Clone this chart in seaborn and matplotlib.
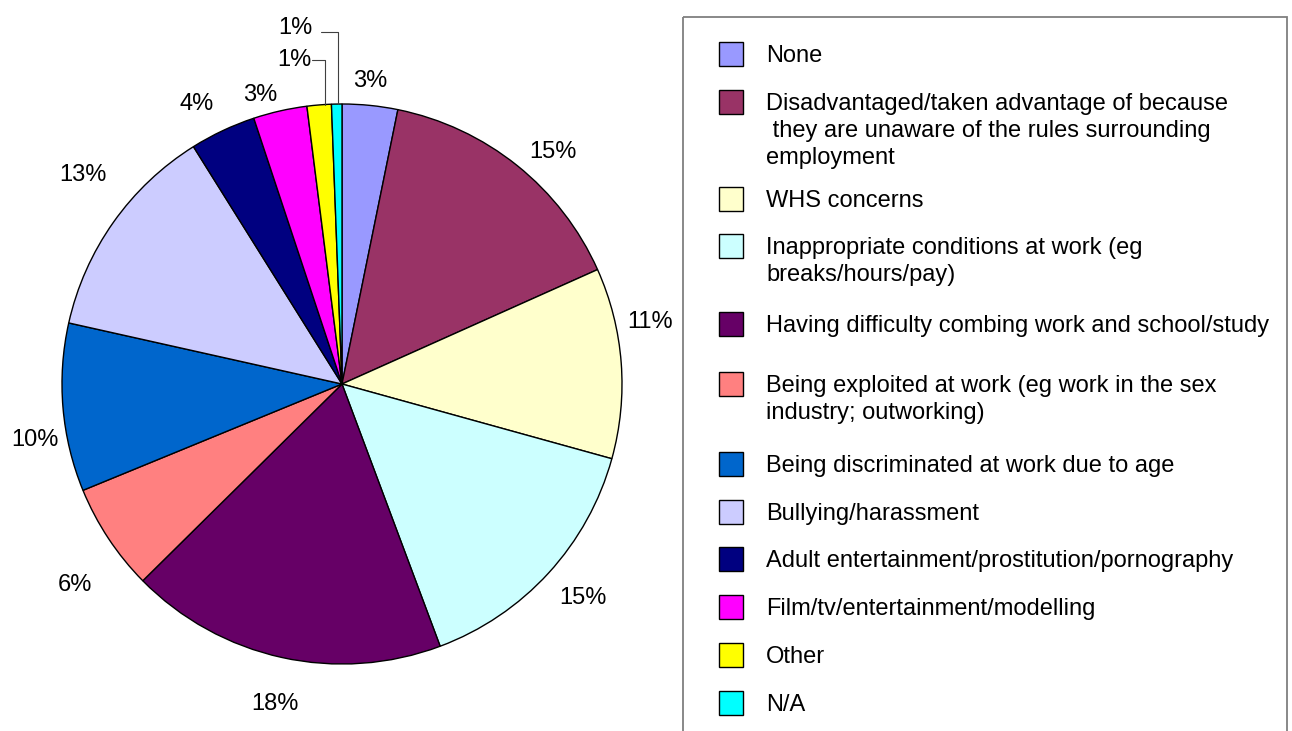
import numpy as np
import matplotlib
matplotlib.use("Agg")
import matplotlib.pyplot as plt
from matplotlib.patches import Rectangle
import seaborn as sns

# data (share of responses, %)
categories = [
    "None",
    "Disadvantaged/taken advantage of because\n they are unaware of the rules surrounding\nemployment",
    "WHS concerns",
    "Inappropriate conditions at work (eg\nbreaks/hours/pay)",
    "Having difficulty combing work and school/study",
    "Being exploited at work (eg work in the sex\nindustry; outworking)",
    "Being discriminated at work due to age",
    "Bullying/harassment",
    "Adult entertainment/prostitution/pornography",
    "Film/tv/entertainment/modelling",
    "Other",
    "N/A",
]
shares = [3.2, 15.1, 11.0, 15.0, 18.3, 6.2, 9.7, 12.6, 3.8, 3.1, 1.4, 0.6]
colours = ["#9999FF", "#993366", "#FFFFCC", "#CCFFFF", "#660066", "#FF8080",
           "#0066CC", "#CCCCFF", "#000080", "#FF00FF", "#FFFF00", "#00FFFF"]

# small hand nudges (px, right/down) so labels sit where Excel put them
label_nudge = [(-6, 0), (4, 7), (-8, -38), (1, 5), (6, 23), (1, 29),
               (9, 29), (4, -29), (-1, -4), (-7, 8), (6, 0), (1, 0)]

sns.set_style("white")
plt.rcParams['font.family'] = ['Liberation Sans', 'DejaVu Sans']
plt.rcParams['text.color'] = 'black'
FS = 17

W, H = 1292, 731
fig = plt.figure(figsize=(W / 100, H / 100), dpi=100)
fig.patch.set_facecolor("white")

# pie placed in pixels: centre and radius
cx, cy, R = 342, 384, 280
ax = fig.add_axes([(cx - R) / W, (H - cy - R) / H, 2 * R / W, 2 * R / H])
wedges, _ = ax.pie(shares, colors=colours, startangle=90, counterclock=False,
                   wedgeprops=dict(edgecolor="black", linewidth=1.0))
ax.set_xlim(-1, 1)
ax.set_ylim(-1, 1)
ax.set_aspect("equal")
ax.axis("off")

k = 0
for w, s, (ndx, ndy) in zip(wedges, shares, label_nudge):
    th = np.deg2rad((w.theta1 + w.theta2) / 2)
    c, sn = np.cos(th), np.sin(th)
    lab = f"{round(s)}%"
    if s >= 2:
        x = 1.05 * c + (23 * np.clip(2 * c, -1, 1) + ndx) / R
        y = 1.05 * sn + (10 * np.clip(2 * sn, -1, 1) - ndy) / R
        ax.text(x, y, lab, ha="center", va="center", fontsize=FS, clip_on=False)
    else:
        # small slices get a leader line
        xa = c + ndx / R
        ya = np.sqrt(max(1 - xa ** 2, 0))
        ye = 1 + (44 + 28 * k) / R
        xe = xa - (13 + 4 * k) / R
        ax.plot([xa, xa, xe], [ya, ye, ye], color="#404040", lw=0.8, clip_on=False)
        ax.text(xe - (1 + 7 * k) / R, ye + 4 * k / R, lab, ha="right", va="center",
                fontsize=FS, clip_on=False)
        k += 1

# legend drawn in pixel space
lax = fig.add_axes([0, 0, 1, 1])
lax.set_xlim(0, W)
lax.set_ylim(H, 0)
lax.axis("off")
lax.add_patch(Rectangle((683, 17), 604, 740, fill=False, edgecolor="#7f7f7f", lw=1.3))
rows = [54, 102, 199, 246, 324, 384, 464, 512, 559, 607, 655, 703]
for name, col, yr in zip(categories, colours, rows):
    lax.add_patch(Rectangle((719, yr - 12), 24, 24, facecolor=col, edgecolor="black", lw=1.0))
    for j, line in enumerate(name.split("\n")):
        lax.text(766, yr + 8 + 27 * j, line, ha="left", va="baseline", fontsize=FS)

fig.savefig("out.png", dpi=100)
